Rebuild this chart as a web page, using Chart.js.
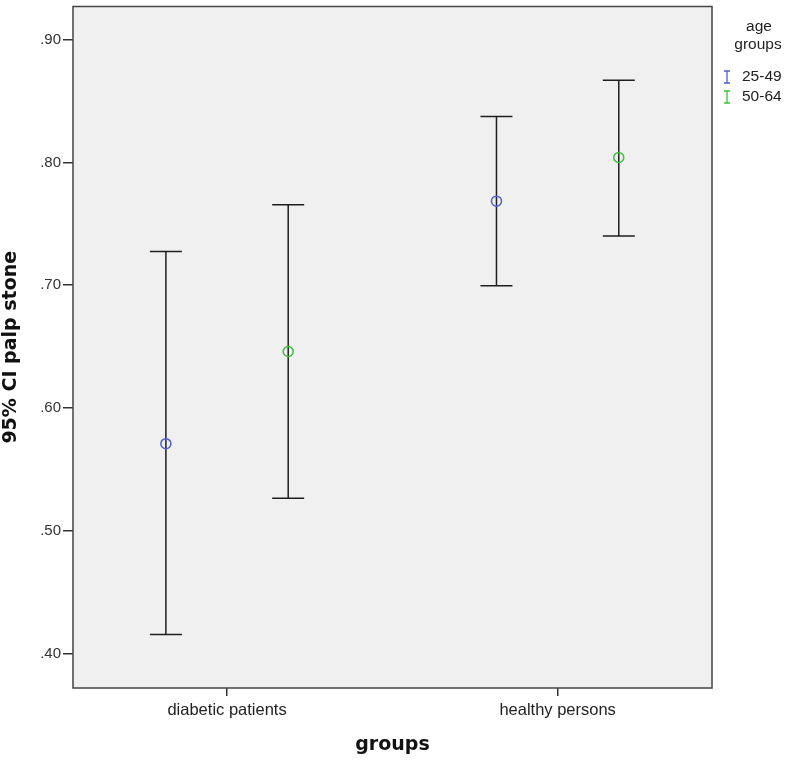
<!DOCTYPE html>
<html>
  <head>
    <title>95% CI palp stone</title>
    <script src="https://cdn.jsdelivr.net/npm/chart.js@4.4.1/dist/chart.umd.min.js"></script>
    <style>
      html, body { margin:0; padding:0; background:#fff; }
      #wrap { width:786px; height:761px; }
    </style>
  </head>
  <body>
    <div id="wrap"><canvas id="ci-chart"></canvas></div>

  <script>
    // data
    var groups = ["diabetic patients", "healthy persons"];
    var ageGroups = ["25-49", "50-64"];
    var ageColors = ["#4d62c6", "#3cbf3c"];

    var mean2549  = [0.571, 0.7685];
    var lower2549 = [0.4155, 0.6995];
    var upper2549 = [0.7275, 0.8375];

    var mean5064  = [0.646, 0.804];
    var lower5064 = [0.5265, 0.740];
    var upper5064 = [0.7655, 0.867];

    var yTicks = [0.40, 0.50, 0.60, 0.70, 0.80, 0.90];

    var dodge = 0.185;

    function buildPoints(means, lows, highs, off){
      var pts = [];
      for (i=0;i<means.length;i++){
        pts.push({x: i + 1 + off, y: means[i], lo: lows[i], hi: highs[i]});
      }
      return pts;
    }

    var fontSans = "'Liberation Sans', Arial, sans-serif";

    // background + frame of plot area
    var frame = {
      id: 'frame',
      beforeDraw: function(chart){
        var a = chart.chartArea, ctx = chart.ctx;
        ctx.save();
        ctx.fillStyle = '#f0f0f0';
        ctx.fillRect(a.left, a.top, a.right - a.left, a.bottom - a.top);
        ctx.restore();
      },
      afterDraw: function(chart){
        var a = chart.chartArea, ctx = chart.ctx;
        ctx.save();
        ctx.strokeStyle = '#444';
        ctx.lineWidth = 1.5;
        ctx.strokeRect(a.left, a.top, a.right - a.left, a.bottom - a.top);
        ctx.restore();
      }
    };

    // whiskers for each mean point
    var errorBars = {
      id: 'errorBars',
      beforeDatasetsDraw: function(chart){
        var ctx = chart.ctx, xs = chart.scales.x, ys = chart.scales.y;
        ctx.save();
        ctx.strokeStyle = '#1e1e1e';
        ctx.lineWidth = 1.5;
        chart.data.datasets.forEach(function(ds){
          ds.data.forEach(function(p){
            var px = xs.getPixelForValue(p.x);
            var top = ys.getPixelForValue(p.hi);
            var bot = ys.getPixelForValue(p.lo);
            ctx.beginPath();
            ctx.moveTo(px, top); ctx.lineTo(px, bot);
            ctx.moveTo(px - 16, top); ctx.lineTo(px + 16, top);
            ctx.moveTo(px - 16, bot); ctx.lineTo(px + 16, bot);
            ctx.stroke();
          });
        });
        ctx.restore();
      }
    };

    // legend on the right, SPSS style
    var sideLegend = {
      id: 'sideLegend',
      afterDraw: function(chart){
        var ctx = chart.ctx;
        ctx.save();
        ctx.fillStyle = '#222';
        ctx.font = "15.5px " + fontSans;
        ctx.textAlign = 'center';
        ctx.textBaseline = 'middle';
        ctx.fillText('age', 759, 27);
        ctx.fillText('groups', 758, 45);
        ctx.textAlign = 'left';
        chart.data.datasets.forEach(function(ds, i){
          var y = 77 + i * 20;
          ctx.strokeStyle = ds.borderColor;
          ctx.lineWidth = 1.3;
          ctx.beginPath();
          ctx.moveTo(727, y - 6); ctx.lineTo(727, y + 6);
          ctx.moveTo(724, y - 6); ctx.lineTo(730, y - 6);
          ctx.moveTo(724, y + 6); ctx.lineTo(730, y + 6);
          ctx.stroke();
          ctx.fillStyle = '#222';
          ctx.fillText(ds.label, 742, y);
        });
        ctx.restore();
      }
    };

    new Chart(document.getElementById('ci-chart'), {
      type: 'scatter',
      data: {
        datasets: [
          {
            label: ageGroups[0],
            data: buildPoints(mean2549, lower2549, upper2549, -dodge),
            borderColor: ageColors[0],
            backgroundColor: 'rgba(0,0,0,0)',
            pointRadius: 5,
            pointBorderWidth: 1.5
          },
          {
            label: ageGroups[1],
            data: buildPoints(mean5064, lower5064, upper5064, dodge),
            borderColor: ageColors[1],
            backgroundColor: 'rgba(0,0,0,0)',
            pointRadius: 5,
            pointBorderWidth: 1.5
          }
        ]
      },
      options: {
        responsive: true,
        maintainAspectRatio: false,
        animation: false,
        layout: { padding: { top: 0, right: 74, bottom: 0, left: 0 } },
        plugins: {
          legend: { display: false },
          tooltip: { enabled: false }
        },
        scales: {
          x: {
            type: 'linear',
            min: 0.534,
            max: 2.467,
            afterFit: function(s){ s.height = 73; },
            afterBuildTicks: function(s){
              s.ticks = [{value: 1}, {value: 2}];
            },
            ticks: {
              autoSkip: false,
              maxRotation: 0,
              padding: 5,
              color: '#222',
              font: { family: fontSans, size: 16.5 },
              callback: function(v){ return groups[Math.round(v) - 1]; }
            },
            grid: {
              drawOnChartArea: false,
              drawTicks: true,
              tickLength: 8,
              tickColor: '#333',
              lineWidth: 1.5
            },
            border: { display: false },
            title: {
              display: true,
              text: 'groups',
              color: '#111',
              font: { family: "'DejaVu Sans', sans-serif", size: 19, weight: 'bold' },
              padding: { top: 0, bottom: 5 }
            }
          },
          y: {
            min: 0.372,
            max: 0.927,
            afterFit: function(s){
              s.width = 73;
              s.paddingTop = 3;
              s.paddingBottom = 0;
            },
            afterBuildTicks: function(s){
              s.ticks = yTicks.map(function(v){ return {value: v}; });
            },
            ticks: {
              padding: 2,
              color: '#333',
              font: { family: fontSans, size: 15 },
              callback: function(v){ return v.toFixed(2).replace(/^0/, ''); }
            },
            grid: {
              drawOnChartArea: false,
              drawTicks: true,
              tickLength: 10,
              tickColor: '#333',
              lineWidth: 1.5
            },
            border: { display: false },
            title: {
              display: true,
              text: '95% CI palp stone',
              color: '#111',
              font: { family: "'DejaVu Sans', sans-serif", size: 19, weight: 'bold' },
              padding: { top: 0, bottom: 0 }
            }
          }
        }
      },
      plugins: [frame, errorBars, sideLegend]
    });
  </script>
  </body>
</html>
